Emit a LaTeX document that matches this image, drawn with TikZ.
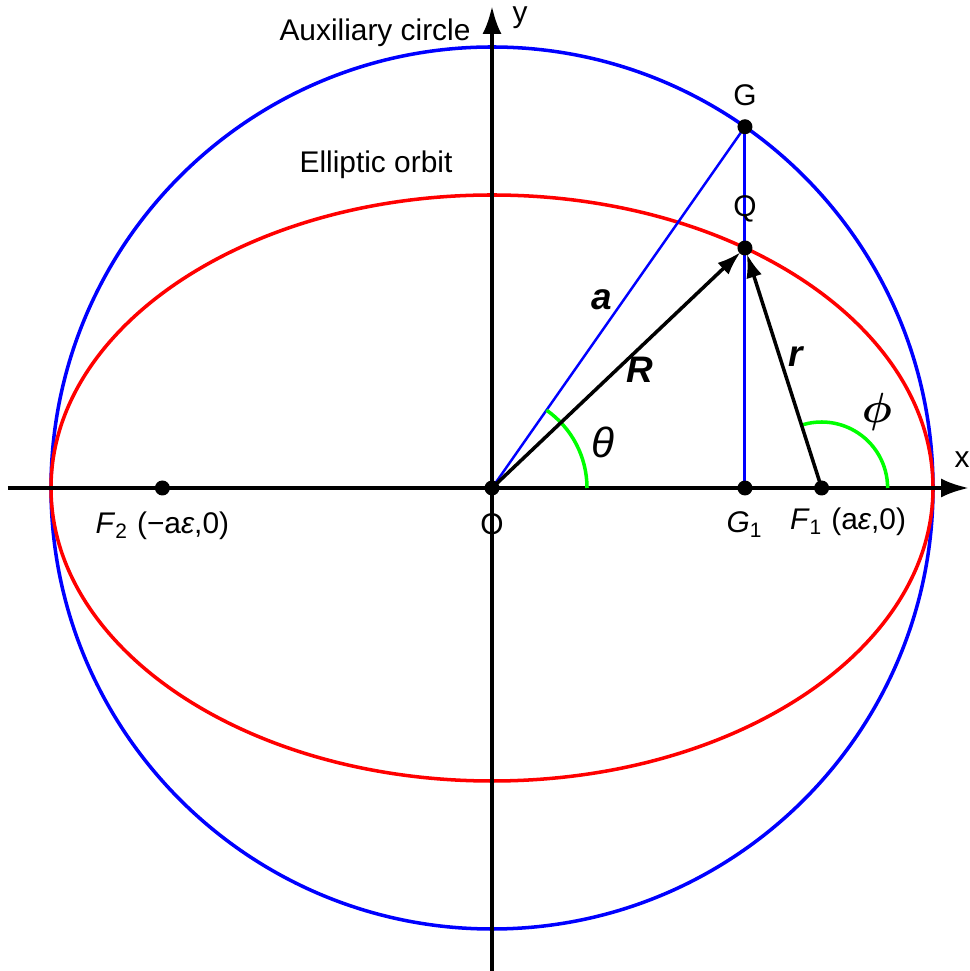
\documentclass[tikz,border=0pt]{standalone}
\usepackage{amsmath}
\usepackage{fontspec}
\setmainfont{Liberation Sans}
\usetikzlibrary{arrows.meta,positioning}

\begin{document}
\begin{tikzpicture}[
    font=\fontsize{8.5}{10}\selectfont,
    dot/.style={circle, fill=black, inner sep=0pt, minimum size=0.15cm},
    axis/.style={line width=1.1pt, -{Latex[length=2.8mm, width=1.9mm]}},
    vec/.style={line width=1pt, -{Latex[length=2.4mm, width=1.6mm]}, shorten >=0.06cm},
    sym/.style={font=\fontsize{10.5}{12}\selectfont},
    ang/.style={font=\fontsize{12}{14}\selectfont},
  ]
  \useasboundingbox (-4.92,-4.83) rectangle (4.77,4.88);

  % auxiliary circle and orbit
  \draw[blue, line width=1pt] (0,0) circle (4.41);
  \draw[red, line width=1pt] (0,0) ellipse (4.41 and 2.93);

  % points
  \coordinate (O) at (0,0);
  \coordinate (G) at (55:4.41);
  \coordinate (Q) at ({4.41*cos(55)},{2.93*sin(55)});
  \coordinate (G1) at ({4.41*cos(55)},0);
  \coordinate (F1) at (3.296,0);
  \coordinate (F2) at (-3.296,0);

  % axes
  \coordinate (xl) at (-4.84,0);
  \coordinate (xr) at (4.77,0);
  \coordinate (yb) at (0,-4.83);
  \coordinate (yt) at (0,4.82);
  \draw[axis] (xl) -- (xr);
  \draw[axis] (yb) -- (yt);

  \draw[blue, line width=0.7pt] (O) -- (G);
  \draw[blue, line width=0.85pt] (G) -- (G1);

  % angles
  \draw[green, line width=1pt] ([xshift=0.95cm]O) arc (0:55:0.95);
  \draw[green, line width=1pt] ([xshift=0.66cm]F1) arc (0:107.7:0.66);

  \draw[vec] (O) -- (Q);
  \draw[vec] (F1) -- (Q);

  \foreach \p in {O,G,Q,G1,F1,F2}
    \node[dot] (\p-pt) at (\p) {};

  % labels
  \node (aux) at (-1.17,4.55) {Auxiliary circle};
  \node (orb) at (-1.16,3.23) {Elliptic orbit};
  \node (ylab) at (0.28,4.70) {y};
  \node (xlab) at (4.70,0.28) {x};
  \node[above=0pt of G-pt] (Glab) {G};
  \node[above=0.05cm of Q-pt] (Qlab) {Q};
  \node[below=0.05cm of O-pt] (Olab) {O};
  \node[below=0.03cm of G1-pt] (G1lab) {\textit{G}\textsubscript{1}};
  \node[below=0.03cm of F2-pt] (F2lab) {\textit{F}\textsubscript{2} (−a\textit{ε},0)};
  \node (F1lab) at (3.56,-0.34) {\textit{F}\textsubscript{1} (a\textit{ε},0)};
  \node[sym] (alab) at (1.10,1.88) {\textbf{\textit{a}}};
  \node[sym] (Rlab) at (1.48,1.18) {\textbf{\textit{R}}};
  \node[sym] (rlab) at (3.05,1.31) {\textbf{\textit{r}}};
  \node[ang] (thlab) at (1.11,0.46) {\textit{θ}};
  \node[ang] (phlab) at (3.85,0.76) {$\boldsymbol{\phi}$};
\end{tikzpicture}
\end{document}
